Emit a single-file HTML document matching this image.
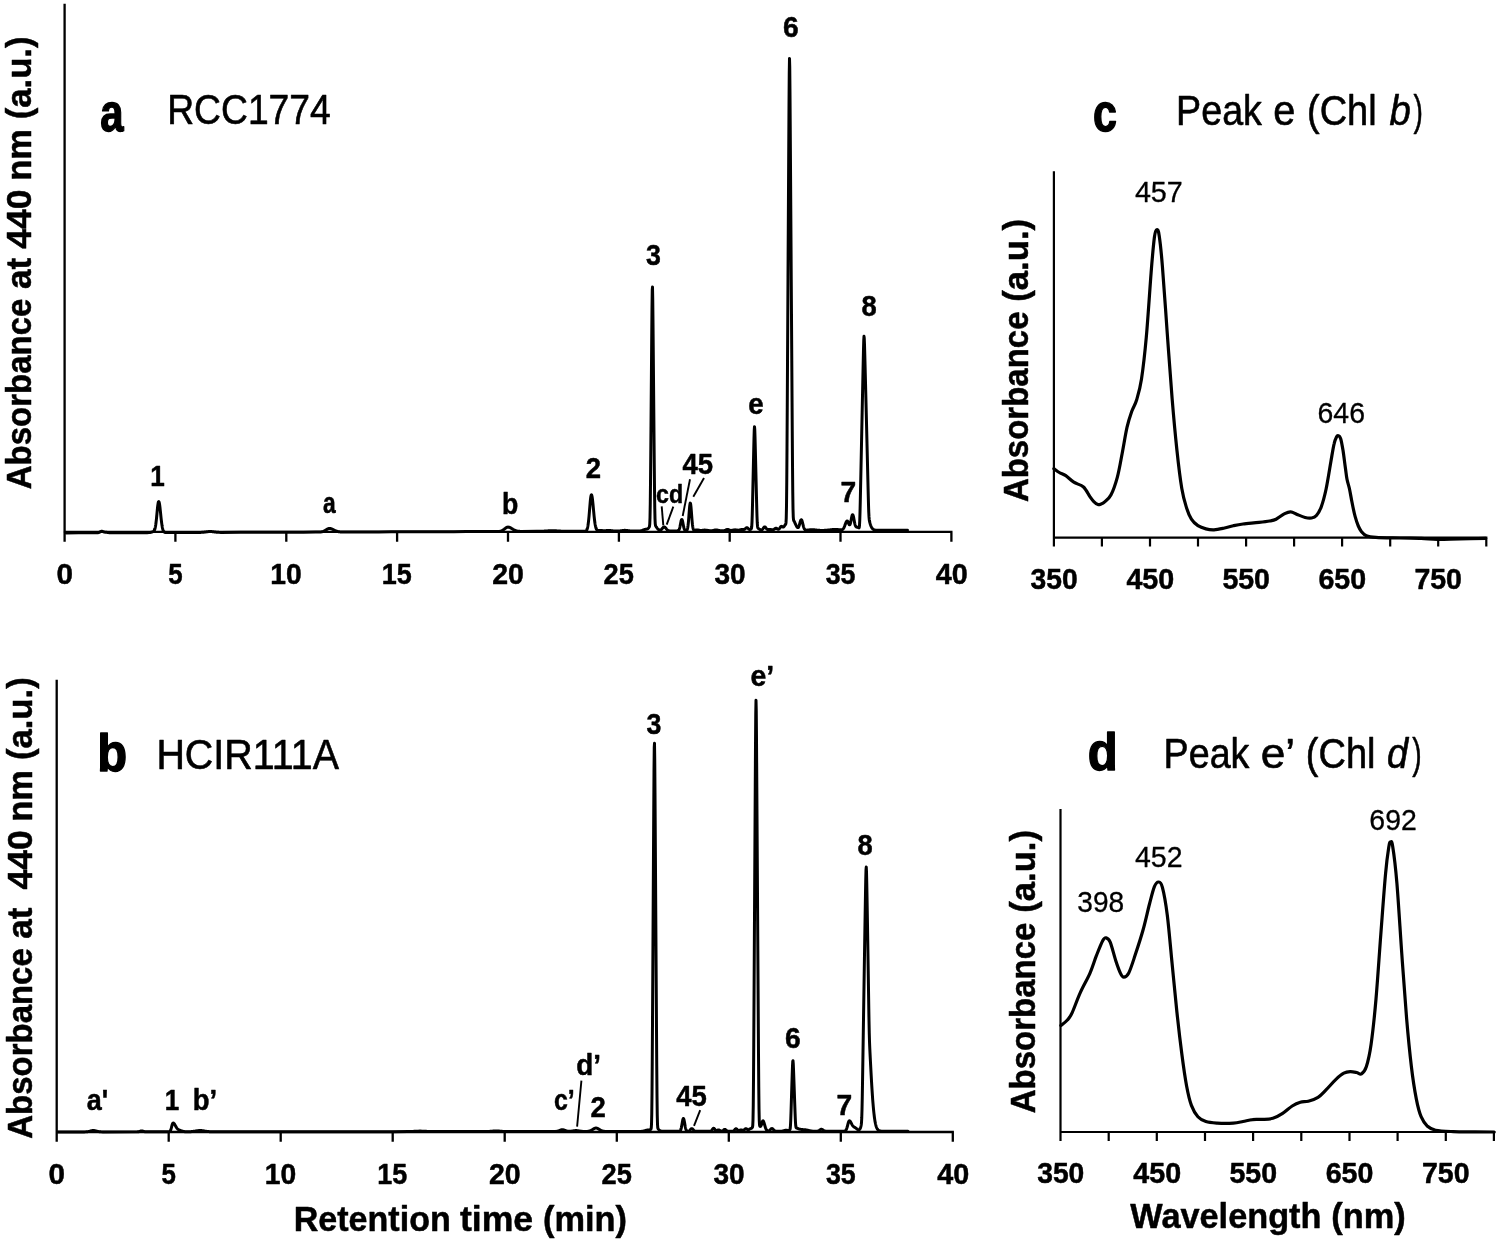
<!DOCTYPE html>
<html lang="en">
<head>
<meta charset="utf-8">
<title>HPLC chromatograms and absorbance spectra</title>
<style>
html,body{margin:0;padding:0;background:#fff;}
body{width:1500px;height:1241px;overflow:hidden;}
svg{display:block;}
svg text{font-family:'Liberation Sans', sans-serif;stroke:none;fill:#000;}
</style>
</head>
<body>
<svg width="1500" height="1241" viewBox="0 0 1500 1241" stroke="#000" fill="#000" font-weight="700">
<rect width="1500" height="1241" fill="#fff" stroke="none"/>
<!-- panel a -->
<path d="M64.6,3.8 V541.8 M63.4,531.8 H952.5 M175.4,531.8 V541.8 M286.3,531.8 V541.8 M397.1,531.8 V541.8 M508,531.8 V541.8 M618.9,531.8 V541.8 M729.7,531.8 V541.8 M840.5,531.8 V541.8 M951.4,531.8 V541.8" fill="none" stroke-width="2.3"/>
<path d="M66,532.9 L78.5,532.86 L91,532.82 L97.25,532.77 L98,532.7 L98.25,532.66 L98.5,532.6 L98.75,532.53 L99,532.44 L99.25,532.33 L99.5,532.21 L99.75,532.07 L100,531.93 L100.25,531.78 L100.5,531.63 L100.75,531.5 L101,531.39 L101.25,531.31 L101.5,531.26 L102,531.26 L102.25,531.31 L102.5,531.39 L102.75,531.48 L103,531.58 L103.25,531.69 L103.5,531.79 L103.75,531.89 L104,531.97 L104.25,532.04 L104.5,532.09 L104.75,532.14 L105.25,532.2 L105.75,532.24 L106.25,532.3 L106.75,532.36 L107.25,532.43 L107.75,532.5 L108.25,532.57 L108.75,532.63 L109.25,532.67 L110,532.72 L135.75,532.68 L147.25,532.64 L149,532.59 L149.75,532.52 L150.25,532.45 L150.5,532.41 L150.75,532.35 L151,532.29 L151.25,532.23 L151.5,532.16 L151.75,532.08 L152,532 L152.25,531.91 L152.5,531.82 L152.75,531.72 L153,531.61 L153.25,531.48 L153.5,531.32 L153.75,531.11 L154,530.84 L154.25,530.48 L154.5,530 L154.75,529.37 L155,528.55 L155.25,527.51 L155.5,526.21 L155.75,524.63 L156,522.78 L156.25,520.65 L156.5,518.29 L156.75,515.75 L157,513.12 L157.25,510.5 L157.5,508.01 L157.75,505.78 L158,503.93 L158.25,502.56 L158.5,501.75 L158.75,501.52 L159,501.86 L159.25,502.73 L159.5,504.05 L159.75,505.77 L160,507.8 L160.25,510.06 L160.5,512.46 L160.75,514.89 L161,517.29 L161.25,519.59 L161.5,521.72 L161.75,523.65 L162,525.37 L162.25,526.85 L162.5,528.1 L162.75,529.14 L163,529.98 L163.25,530.65 L163.5,531.17 L163.75,531.57 L164,531.86 L164.25,532.08 L164.5,532.24 L164.75,532.35 L165,532.43 L165.25,532.48 L165.75,532.54 L190.75,532.5 L198.75,532.46 L200.5,532.41 L201.5,532.37 L202.25,532.32 L203,532.26 L203.5,532.22 L204,532.16 L204.5,532.1 L205,532.04 L205.5,531.97 L206,531.9 L206.5,531.84 L207,531.77 L207.5,531.71 L208,531.65 L208.5,531.61 L209.25,531.56 L211.75,531.62 L212.25,531.66 L212.75,531.72 L213.25,531.78 L213.75,531.85 L214.25,531.91 L214.75,531.98 L215.25,532.04 L215.75,532.1 L216.25,532.15 L216.75,532.2 L217.25,532.24 L218,532.29 L219,532.34 L220.75,532.38 L241,532.34 L253.5,532.3 L266,532.26 L278.5,532.22 L291,532.18 L303.5,532.14 L315.75,532.1 L319,532.06 L320,532.01 L320.75,531.95 L321.25,531.89 L321.5,531.85 L321.75,531.81 L322,531.76 L322.25,531.7 L322.5,531.64 L322.75,531.57 L323,531.49 L323.25,531.4 L323.5,531.31 L323.75,531.2 L324,531.09 L324.25,530.97 L324.5,530.84 L324.75,530.71 L325,530.56 L325.25,530.42 L325.5,530.26 L325.75,530.1 L326,529.95 L326.25,529.79 L326.5,529.63 L326.75,529.47 L327,529.32 L327.25,529.18 L327.5,529.04 L327.75,528.92 L328,528.81 L328.25,528.71 L328.5,528.63 L328.75,528.56 L329,528.51 L329.5,528.47 L330.25,528.52 L330.5,528.56 L330.75,528.62 L331,528.68 L331.25,528.76 L331.5,528.84 L331.75,528.94 L332,529.04 L332.25,529.15 L332.5,529.26 L332.75,529.38 L333,529.5 L333.25,529.63 L333.5,529.76 L333.75,529.88 L334,530.01 L334.25,530.14 L334.5,530.26 L334.75,530.39 L335,530.51 L335.25,530.62 L335.5,530.73 L335.75,530.84 L336,530.94 L336.25,531.04 L336.5,531.13 L336.75,531.21 L337,531.29 L337.25,531.37 L337.5,531.44 L337.75,531.5 L338,531.56 L338.25,531.61 L338.5,531.66 L338.75,531.7 L339.25,531.78 L339.75,531.84 L340.25,531.88 L341,531.93 L342.25,531.98 L366.25,531.94 L378.75,531.9 L391.25,531.86 L403.75,531.82 L416.25,531.78 L428.75,531.74 L441.25,531.7 L453.75,531.66 L466.25,531.62 L478.75,531.58 L491.25,531.54 L497.25,531.49 L498.5,531.44 L499.25,531.37 L499.75,531.31 L500,531.27 L500.25,531.22 L500.5,531.17 L500.75,531.1 L501,531.03 L501.25,530.95 L501.5,530.86 L501.75,530.76 L502,530.65 L502.25,530.53 L502.5,530.39 L502.75,530.25 L503,530.09 L503.25,529.93 L503.5,529.75 L503.75,529.57 L504,529.38 L504.25,529.18 L504.5,528.98 L504.75,528.78 L505,528.58 L505.25,528.39 L505.5,528.2 L505.75,528.01 L506,527.84 L506.25,527.68 L506.5,527.54 L506.75,527.41 L507,527.3 L507.25,527.22 L507.5,527.16 L508,527.1 L508.75,527.16 L509,527.22 L509.25,527.28 L509.5,527.36 L509.75,527.45 L510,527.56 L510.25,527.67 L510.5,527.8 L510.75,527.93 L511,528.07 L511.25,528.21 L511.5,528.36 L511.75,528.52 L512,528.67 L512.25,528.83 L512.5,528.99 L512.75,529.14 L513,529.3 L513.25,529.45 L513.5,529.59 L513.75,529.73 L514,529.87 L514.25,530 L514.5,530.13 L514.75,530.24 L515,530.36 L515.25,530.46 L515.5,530.56 L515.75,530.65 L516,530.73 L516.25,530.81 L516.5,530.88 L516.75,530.95 L517,531 L517.25,531.06 L517.5,531.11 L517.75,531.15 L518.25,531.22 L518.75,531.28 L519.25,531.32 L520,531.37 L521.25,531.41 L536.75,531.37 L539,531.32 L540.5,531.28 L541.75,531.23 L542.75,531.19 L543.75,531.13 L544.5,531.09 L545.25,531.04 L546,531 L546.75,530.95 L547.5,530.9 L548.25,530.86 L549.25,530.81 L550.5,530.77 L555.25,530.81 L556.25,530.86 L557,530.9 L557.75,530.94 L558.5,530.99 L559.25,531.03 L560.25,531.08 L561.25,531.13 L562.25,531.17 L563.75,531.21 L566,531.26 L584.5,531.22 L585.25,531.14 L585.5,531.08 L585.75,530.99 L586,530.86 L586.25,530.67 L586.5,530.39 L586.75,530.01 L587,529.49 L587.25,528.8 L587.5,527.89 L587.75,526.74 L588,525.32 L588.25,523.58 L588.5,521.53 L588.75,519.17 L589,516.53 L589.25,513.66 L589.5,510.63 L589.75,507.55 L590,504.54 L590.25,501.73 L590.5,499.26 L590.75,497.26 L591,495.82 L591.25,495.01 L591.5,494.85 L591.75,495.3 L592,496.3 L592.25,497.8 L592.5,499.71 L592.75,501.95 L593,504.44 L593.25,507.09 L593.5,509.79 L593.75,512.47 L594,515.06 L594.25,517.48 L594.5,519.71 L594.75,521.71 L595,523.46 L595.25,524.96 L595.5,526.23 L595.75,527.27 L596,528.11 L596.25,528.78 L596.5,529.29 L596.75,529.67 L597,529.96 L597.25,530.16 L597.5,530.3 L597.75,530.39 L598,530.45 L598.5,530.49 L601.5,530.54 L602.25,530.6 L602.75,530.64 L603.5,530.69 L606,530.65 L606.5,530.6 L607,530.56 L607.5,530.52 L608.25,530.47 L610.25,530.51 L610.75,530.56 L611.25,530.62 L611.75,530.69 L612.25,530.76 L612.75,530.82 L613.25,530.89 L613.75,530.94 L614.25,530.99 L615,531.04 L616.25,531.08 L618.75,531.03 L619.5,530.97 L620,530.92 L620.5,530.86 L621,530.79 L621.5,530.71 L621.75,530.67 L622,530.63 L622.25,530.59 L622.75,530.51 L623.25,530.44 L623.75,530.38 L624.25,530.34 L626.5,530.4 L627,530.46 L627.5,530.53 L628,530.61 L628.5,530.69 L629,530.76 L629.5,530.83 L630,530.89 L630.5,530.94 L631.25,530.99 L632.25,531.04 L639.5,530.99 L640,530.94 L640.5,530.87 L640.75,530.82 L641,530.77 L641.25,530.71 L641.5,530.65 L641.75,530.57 L642,530.49 L642.25,530.4 L642.5,530.31 L642.75,530.21 L643,530.11 L643.25,530.01 L643.5,529.91 L643.75,529.81 L644,529.72 L644.25,529.63 L644.5,529.55 L644.75,529.48 L645,529.41 L645.25,529.36 L645.5,529.31 L645.75,529.27 L646.25,529.2 L646.5,529.15 L646.75,529.1 L647,529.03 L647.25,528.95 L647.5,528.83 L647.75,528.69 L648,528.51 L648.25,528.29 L648.5,528.02 L648.75,527.72 L649,527.37 L649.25,526.94 L649.5,526.19 L649.75,524.07 L650,518.06 L650.25,504.87 L650.5,483.33 L650.75,455.75 L651,425.51 L651.25,394.59 L651.5,363.73 L651.75,333.78 L652,307.35 L652.25,289.86 L652.5,287.02 L652.75,299.57 L653,322.44 L653.25,349.67 L653.5,378.08 L653.75,406.7 L654,435.25 L654.25,463.09 L654.5,488.26 L654.75,507.52 L655,518.89 L655.25,523.8 L655.5,525.46 L655.75,526.08 L656,526.49 L656.25,526.87 L656.5,527.24 L656.75,527.59 L657,527.93 L657.25,528.25 L657.5,528.55 L657.75,528.83 L658,529.08 L658.25,529.31 L658.5,529.51 L658.75,529.68 L659,529.82 L659.25,529.94 L659.5,530.02 L659.75,530.06 L660.25,530.05 L660.5,529.99 L660.75,529.88 L661,529.74 L661.25,529.56 L661.5,529.34 L661.75,529.09 L662,528.82 L662.25,528.54 L662.5,528.25 L662.75,527.96 L663,527.7 L663.25,527.47 L663.5,527.27 L663.75,527.13 L664,527.05 L664.25,527.04 L664.5,527.08 L664.75,527.2 L665,527.36 L665.25,527.58 L665.5,527.84 L665.75,528.12 L666,528.43 L666.25,528.73 L666.5,529.04 L666.75,529.33 L667,529.6 L667.25,529.84 L667.5,530.06 L667.75,530.24 L668,530.4 L668.25,530.53 L668.5,530.64 L668.75,530.72 L669,530.79 L669.25,530.84 L669.75,530.9 L670.5,530.94 L677.5,530.89 L677.75,530.85 L678,530.78 L678.25,530.66 L678.5,530.48 L678.75,530.21 L679,529.81 L679.25,529.27 L679.5,528.55 L679.75,527.64 L680,526.55 L680.25,525.31 L680.5,523.99 L680.75,522.67 L681,521.45 L681.25,520.45 L681.5,519.77 L681.75,519.47 L682,519.6 L682.25,520.13 L682.5,521.01 L682.75,522.15 L683,523.45 L683.25,524.78 L683.5,526.06 L683.75,527.21 L684,528.19 L684.25,528.99 L684.5,529.6 L684.75,530.05 L685,530.36 L685.25,530.57 L685.5,530.7 L685.75,530.76 L686,530.77 L686.25,530.73 L686.5,530.62 L686.75,530.41 L687,530.05 L687.25,529.49 L687.5,528.64 L687.75,527.43 L688,525.78 L688.25,523.65 L688.5,521.03 L688.75,518 L689,514.69 L689.25,511.34 L689.5,508.21 L689.75,505.63 L690,503.85 L690.25,503.08 L690.5,503.4 L690.75,504.79 L691,507.08 L691.25,510.02 L691.5,513.31 L691.75,516.65 L692,519.8 L692.25,522.58 L692.5,524.89 L692.75,526.7 L693,528.05 L693.25,528.99 L693.5,529.61 L693.75,530 L694,530.21 L694.25,530.3 L694.75,530.3 L695,530.25 L695.25,530.19 L695.5,530.13 L695.75,530.06 L696,530 L696.25,529.96 L696.75,529.9 L697.75,529.94 L698,529.98 L698.25,530.03 L698.5,530.09 L698.75,530.15 L699,530.22 L699.25,530.28 L699.5,530.33 L699.75,530.38 L700,530.42 L700.5,530.48 L702,530.42 L702.5,530.35 L702.75,530.31 L703,530.27 L703.25,530.22 L703.75,530.15 L704.25,530.09 L706.25,530.15 L706.5,530.18 L706.75,530.22 L707,530.26 L707.25,530.31 L707.5,530.36 L707.75,530.4 L708,530.45 L708.25,530.49 L708.5,530.53 L709,530.61 L709.5,530.67 L710,530.71 L712.25,530.65 L712.5,530.62 L712.75,530.57 L713,530.52 L713.25,530.47 L713.5,530.4 L713.75,530.34 L714,530.27 L714.25,530.21 L714.5,530.14 L714.75,530.08 L715,530.03 L715.25,529.99 L715.75,529.94 L716.75,529.98 L717,530.03 L717.25,530.08 L717.5,530.14 L717.75,530.2 L718,530.26 L718.25,530.33 L718.5,530.39 L718.75,530.45 L719,530.51 L719.25,530.56 L719.5,530.6 L720,530.67 L720.5,530.72 L721.25,530.77 L723.75,530.72 L724,530.69 L724.25,530.64 L724.5,530.58 L724.75,530.51 L725,530.42 L725.25,530.32 L725.5,530.2 L725.75,530.07 L726,529.93 L726.25,529.8 L726.5,529.67 L726.75,529.56 L727,529.48 L727.25,529.43 L727.75,529.42 L728,529.46 L728.25,529.54 L728.5,529.64 L728.75,529.75 L729,529.87 L729.25,529.99 L729.5,530.1 L729.75,530.2 L730,530.28 L730.25,530.34 L730.5,530.38 L731.75,530.34 L732,530.3 L732.25,530.26 L732.5,530.21 L732.75,530.16 L733,530.11 L733.25,530.06 L733.5,530.01 L733.75,529.97 L734.25,529.9 L735,529.86 L736,529.91 L736.5,529.97 L737,530.04 L737.5,530.1 L738.25,530.14 L739,530.09 L739.25,530.05 L739.5,530 L739.75,529.95 L740,529.88 L740.25,529.82 L740.5,529.75 L740.75,529.69 L741,529.63 L741.25,529.58 L741.75,529.52 L743.25,529.57 L743.75,529.55 L744,529.5 L744.25,529.42 L744.5,529.3 L744.75,529.15 L745,528.96 L745.25,528.74 L745.5,528.51 L745.75,528.29 L746,528.08 L746.25,527.9 L746.5,527.77 L746.75,527.7 L747,527.7 L747.25,527.77 L747.5,527.9 L747.75,528.09 L748,528.31 L748.25,528.55 L748.5,528.79 L748.75,529.01 L749,529.2 L749.25,529.35 L749.5,529.46 L749.75,529.51 L750,529.5 L750.25,529.45 L750.5,529.34 L750.75,529.19 L751,529 L751.25,528.72 L751.5,528.1 L751.75,526.32 L752,522.08 L752.25,514.68 L752.5,504.84 L752.75,493.86 L753,482.59 L753.25,471.28 L753.5,460.02 L753.75,448.89 L754,438.41 L754.25,430.18 L754.5,426.69 L754.75,429.33 L755,436.71 L755.25,446.31 L755.5,456.54 L755.75,466.91 L756,477.3 L756.25,487.7 L756.5,498.02 L756.75,507.91 L757,516.51 L757.25,522.72 L757.5,526.14 L757.75,527.55 L758,528.05 L758.25,528.31 L758.5,528.52 L758.75,528.72 L759,528.91 L759.25,529.09 L759.5,529.25 L759.75,529.41 L760,529.55 L760.25,529.67 L760.5,529.78 L760.75,529.85 L761,529.9 L761.5,529.9 L761.75,529.82 L762,529.7 L762.25,529.52 L762.5,529.29 L762.75,529 L763,528.67 L763.25,528.31 L763.5,527.94 L763.75,527.6 L764,527.3 L764.25,527.07 L764.5,526.94 L764.75,526.9 L765,526.97 L765.25,527.13 L765.5,527.38 L765.75,527.68 L766,528.02 L766.25,528.36 L766.5,528.69 L766.75,528.98 L767,529.22 L767.25,529.4 L767.5,529.53 L767.75,529.61 L768.75,529.6 L769,529.55 L769.25,529.51 L769.75,529.46 L770.75,529.52 L771,529.57 L771.25,529.62 L771.5,529.68 L771.75,529.74 L772,529.79 L772.5,529.84 L773,529.8 L773.25,529.73 L773.5,529.63 L773.75,529.5 L774,529.35 L774.25,529.17 L774.5,528.98 L774.75,528.8 L775,528.62 L775.25,528.47 L775.5,528.35 L775.75,528.28 L776.25,528.28 L776.5,528.36 L776.75,528.48 L777,528.62 L777.25,528.78 L777.5,528.95 L777.75,529.09 L778,529.2 L778.25,529.26 L778.5,529.26 L778.75,529.18 L779,529.03 L779.25,528.79 L779.5,528.49 L779.75,528.14 L780,527.76 L780.25,527.37 L780.5,527.02 L780.75,526.72 L781,526.51 L781.25,526.39 L781.5,526.36 L781.75,526.43 L782,526.57 L782.25,526.74 L782.5,526.91 L782.75,527.05 L783,527.12 L783.25,527.1 L783.5,526.99 L783.75,526.79 L784,526.52 L784.25,526.19 L784.5,525.84 L784.75,525.48 L785,525.14 L785.25,524.81 L785.5,524.47 L785.75,524 L786,522.67 L786.25,518.15 L786.5,506.05 L786.75,482.67 L787,448.57 L787.25,407.94 L787.5,364.77 L787.75,320.97 L788,277.1 L788.25,233.27 L788.5,189.55 L788.75,146.29 L789,105.45 L789.25,73.03 L789.5,58.58 L789.75,67.28 L790,93.93 L790.25,128.94 L790.5,166.32 L790.75,204.12 L791,241.97 L791.25,279.84 L791.5,317.7 L791.75,355.54 L792,393.25 L792.25,430.17 L792.5,464.15 L792.75,491.34 L793,508.63 L793.25,516.81 L793.5,519.66 L793.75,520.54 L794,521 L794.25,521.45 L794.5,521.95 L794.75,522.47 L795,523.01 L795.25,523.56 L795.5,524.1 L795.75,524.65 L796,525.18 L796.25,525.68 L796.5,526.16 L796.75,526.59 L797,526.97 L797.25,527.27 L797.5,527.49 L797.75,527.61 L798,527.61 L798.25,527.47 L798.5,527.18 L798.75,526.73 L799,526.13 L799.25,525.39 L799.5,524.53 L799.75,523.61 L800,522.65 L800.25,521.74 L800.5,520.94 L800.75,520.29 L801,519.87 L801.25,519.7 L801.5,519.81 L801.75,520.18 L802,520.8 L802.25,521.6 L802.5,522.55 L802.75,523.58 L803,524.63 L803.25,525.64 L803.5,526.58 L803.75,527.41 L804,528.11 L804.25,528.69 L804.5,529.15 L804.75,529.5 L805,529.76 L805.25,529.93 L805.5,530.05 L805.75,530.12 L806.25,530.18 L807.25,530.12 L807.75,530.06 L808.25,530 L808.75,529.94 L809.25,529.89 L809.75,529.83 L810.25,529.79 L811,529.74 L814,529.8 L814.5,529.84 L815,529.89 L815.5,529.95 L816,530.01 L816.5,530.07 L817,530.12 L817.5,530.17 L818,530.22 L818.5,530.27 L819.25,530.32 L820,530.36 L821.5,530.4 L824.25,530.36 L825.25,530.31 L826,530.26 L826.75,530.2 L827.25,530.16 L827.75,530.11 L828.25,530.05 L828.75,529.99 L829.25,529.93 L829.75,529.87 L830.25,529.81 L830.75,529.75 L831.25,529.69 L831.75,529.63 L832.25,529.58 L832.75,529.54 L833.5,529.48 L834.5,529.44 L836.75,529.49 L837.5,529.54 L838,529.59 L838.5,529.64 L839,529.69 L839.5,529.74 L840,529.79 L840.75,529.84 L841.5,529.8 L841.75,529.75 L842,529.68 L842.25,529.58 L842.5,529.44 L842.75,529.26 L843,529.03 L843.25,528.74 L843.5,528.39 L843.75,527.98 L844,527.5 L844.25,526.96 L844.5,526.37 L844.75,525.73 L845,525.06 L845.25,524.38 L845.5,523.7 L845.75,523.05 L846,522.45 L846.25,521.93 L846.5,521.5 L846.75,521.19 L847,521.02 L847.25,521 L847.5,521.15 L847.75,521.47 L848,521.94 L848.25,522.51 L848.5,523.14 L848.75,523.75 L849,524.28 L849.25,524.67 L849.5,524.85 L849.75,524.8 L850,524.47 L850.25,523.87 L850.5,523 L850.75,521.91 L851,520.65 L851.25,519.31 L851.5,517.99 L851.75,516.77 L852,515.76 L852.25,515.04 L852.5,514.68 L852.75,514.7 L853,515.1 L853.25,515.85 L853.5,516.89 L853.75,518.13 L854,519.48 L854.25,520.85 L854.5,522.17 L854.75,523.37 L855,524.4 L855.25,525.24 L855.5,525.9 L855.75,526.38 L856,526.71 L856.25,526.92 L856.5,527.04 L856.75,527.12 L857,527.17 L857.25,527.21 L857.5,527.27 L857.75,527.36 L858,527.46 L858.25,527.58 L858.5,527.71 L858.75,527.82 L859,527.81 L859.25,527.26 L859.5,525.24 L859.75,520.51 L860,512.63 L860.25,502.42 L860.5,491.13 L860.75,479.47 L861,467.68 L861.25,455.81 L861.5,443.86 L861.75,431.86 L862,419.83 L862.25,407.79 L862.5,395.76 L862.75,383.79 L863,371.89 L863.25,360.2 L863.5,349.2 L863.75,340.45 L864,336.34 L864.25,338.2 L864.5,344.72 L864.75,353.48 L865,362.98 L865.25,372.7 L865.5,382.57 L865.75,392.55 L866,402.63 L866.25,412.8 L866.5,423.04 L866.75,433.35 L867,443.7 L867.25,454.08 L867.5,464.47 L867.75,474.86 L868,485.2 L868.25,495.31 L868.5,504.58 L868.75,512.01 L869,516.93 L869.25,519.67 L869.5,521.19 L869.75,522.26 L870,523.18 L870.25,524.01 L870.5,524.77 L870.75,525.46 L871,526.09 L871.25,526.66 L871.5,527.16 L871.75,527.61 L872,528.01 L872.25,528.36 L872.5,528.66 L872.75,528.92 L873,529.15 L873.25,529.35 L873.5,529.51 L873.75,529.65 L874,529.77 L874.25,529.87 L874.5,529.95 L874.75,530.02 L875,530.07 L875.25,530.12 L875.75,530.19 L876.25,530.23 L877.25,530.27 L897.75,530.23 L907.5,530.2" fill="none" stroke-width="3" stroke-linejoin="round" stroke-linecap="round"/>
<text x="56.4" y="583.5" font-size="29.6" style="stroke:#000;stroke-width:0.5px;stroke-linejoin:round" textLength="16.5" lengthAdjust="spacingAndGlyphs">0</text>
<text x="168.2" y="583.5" font-size="29.6" style="stroke:#000;stroke-width:0.5px;stroke-linejoin:round" textLength="14.4" lengthAdjust="spacingAndGlyphs">5</text>
<text x="270.3" y="583.5" font-size="29.6" style="stroke:#000;stroke-width:0.5px;stroke-linejoin:round" textLength="31.4" lengthAdjust="spacingAndGlyphs">10</text>
<text x="381.7" y="583.5" font-size="29.6" style="stroke:#000;stroke-width:0.5px;stroke-linejoin:round" textLength="30.0" lengthAdjust="spacingAndGlyphs">15</text>
<text x="492.2" y="583.5" font-size="29.6" style="stroke:#000;stroke-width:0.5px;stroke-linejoin:round" textLength="31.7" lengthAdjust="spacingAndGlyphs">20</text>
<text x="603.6" y="583.5" font-size="29.6" style="stroke:#000;stroke-width:0.5px;stroke-linejoin:round" textLength="30.3" lengthAdjust="spacingAndGlyphs">25</text>
<text x="714.4" y="583.5" font-size="29.6" style="stroke:#000;stroke-width:0.5px;stroke-linejoin:round" textLength="31.2" lengthAdjust="spacingAndGlyphs">30</text>
<text x="825.7" y="583.5" font-size="29.6" style="stroke:#000;stroke-width:0.5px;stroke-linejoin:round" textLength="29.8" lengthAdjust="spacingAndGlyphs">35</text>
<text x="935.8" y="583.5" font-size="29.6" style="stroke:#000;stroke-width:0.5px;stroke-linejoin:round" textLength="32.0" lengthAdjust="spacingAndGlyphs">40</text>
<g transform="translate(31.2 488.7) rotate(-90)">
<text y="0" font-size="35.2" style="stroke:#000;stroke-width:0.5px;stroke-linejoin:round"><tspan x="-0.5" textLength="190.6" lengthAdjust="spacingAndGlyphs">Absorbance</tspan> <tspan x="199.6" textLength="31.2" lengthAdjust="spacingAndGlyphs">at</tspan> <tspan x="239.9" textLength="59.3" lengthAdjust="spacingAndGlyphs">440</tspan> <tspan x="307.9" textLength="51.7" lengthAdjust="spacingAndGlyphs">nm</tspan> <tspan x="369.4" textLength="82.8" lengthAdjust="spacingAndGlyphs">(a.u.)</tspan></text>
</g>
<text x="100.2" y="131.3" font-size="52.7" style="stroke:#000;stroke-width:1.4px;stroke-linejoin:round" textLength="23.3" lengthAdjust="spacingAndGlyphs">a</text>
<text x="167.2" y="124.4" font-size="41.8" style="stroke:#000;stroke-width:0.6px;stroke-linejoin:round" font-weight="400" textLength="163.6" lengthAdjust="spacingAndGlyphs">RCC1774</text>
<text x="150.3" y="486.3" font-size="29.6" style="stroke:#000;stroke-width:0.5px;stroke-linejoin:round" textLength="14.5" lengthAdjust="spacingAndGlyphs">1</text>
<text x="323" y="512.5" font-size="28.6" style="stroke:#000;stroke-width:0.5px;stroke-linejoin:round" textLength="12.7" lengthAdjust="spacingAndGlyphs">a</text>
<text x="502.1" y="513.6" font-size="28.6" style="stroke:#000;stroke-width:0.5px;stroke-linejoin:round" textLength="16.3" lengthAdjust="spacingAndGlyphs">b</text>
<text x="585.7" y="477.8" font-size="29.6" style="stroke:#000;stroke-width:0.5px;stroke-linejoin:round" textLength="15.3" lengthAdjust="spacingAndGlyphs">2</text>
<text x="646" y="264.6" font-size="29.6" style="stroke:#000;stroke-width:0.5px;stroke-linejoin:round" textLength="14.9" lengthAdjust="spacingAndGlyphs">3</text>
<text x="748.2" y="413.6" font-size="28.6" style="stroke:#000;stroke-width:0.5px;stroke-linejoin:round" textLength="15.4" lengthAdjust="spacingAndGlyphs">e</text>
<text x="783.1" y="37.2" font-size="29.6" style="stroke:#000;stroke-width:0.5px;stroke-linejoin:round" textLength="15.7" lengthAdjust="spacingAndGlyphs">6</text>
<text x="840.5" y="502.2" font-size="29.6" style="stroke:#000;stroke-width:0.5px;stroke-linejoin:round" textLength="15.7" lengthAdjust="spacingAndGlyphs">7</text>
<text x="861.4" y="316.2" font-size="29.6" style="stroke:#000;stroke-width:0.5px;stroke-linejoin:round" textLength="15.2" lengthAdjust="spacingAndGlyphs">8</text>
<text x="656" y="502.8" font-size="26.5" style="stroke:#000;stroke-width:0.5px;stroke-linejoin:round" textLength="27.1" lengthAdjust="spacingAndGlyphs">cd</text>
<text x="682.5" y="473.5" font-size="29.6" style="stroke:#000;stroke-width:0.5px;stroke-linejoin:round" textLength="30.6" lengthAdjust="spacingAndGlyphs">45</text>
<line x1="661.7" y1="506.3" x2="663.3" y2="525.3" stroke-width="1.9"/>
<line x1="673.3" y1="506.7" x2="666.7" y2="524.7" stroke-width="1.9"/>
<line x1="690" y1="479.3" x2="682.7" y2="516" stroke-width="1.9"/>
<line x1="704" y1="478" x2="693.3" y2="496.7" stroke-width="1.9"/>
<!-- panel b -->
<path d="M56.7,679.7 V1141.8 M55.6,1132 H953.9 M168.7,1132 V1141.8 M280.7,1132 V1141.8 M392.7,1132 V1141.8 M504.7,1132 V1141.8 M616.8,1132 V1141.8 M728.8,1132 V1141.8 M840.8,1132 V1141.8 M952.8,1132 V1141.8" fill="none" stroke-width="2.3"/>
<path d="M58,1131.95 L84.25,1131.91 L85.75,1131.86 L86.5,1131.81 L87,1131.76 L87.5,1131.7 L87.75,1131.66 L88,1131.62 L88.25,1131.58 L88.5,1131.53 L88.75,1131.47 L89,1131.42 L89.25,1131.35 L89.5,1131.29 L89.75,1131.22 L90,1131.15 L90.25,1131.08 L90.5,1131.01 L90.75,1130.95 L91,1130.88 L91.25,1130.81 L91.5,1130.75 L91.75,1130.7 L92,1130.65 L92.25,1130.61 L92.75,1130.55 L94.25,1130.59 L94.5,1130.63 L94.75,1130.68 L95,1130.73 L95.25,1130.79 L95.5,1130.85 L95.75,1130.91 L96,1130.98 L96.25,1131.05 L96.5,1131.12 L96.75,1131.19 L97,1131.26 L97.25,1131.32 L97.5,1131.38 L97.75,1131.44 L98,1131.5 L98.25,1131.55 L98.5,1131.6 L98.75,1131.64 L99.25,1131.71 L99.75,1131.77 L100.25,1131.81 L101,1131.86 L102.75,1131.9 L137.25,1131.85 L138,1131.8 L138.5,1131.73 L138.75,1131.68 L139,1131.62 L139.25,1131.55 L139.5,1131.48 L139.75,1131.39 L140,1131.3 L140.25,1131.21 L140.5,1131.13 L140.75,1131.05 L141,1130.98 L141.25,1130.93 L142.25,1130.95 L142.5,1131 L142.75,1131.07 L143,1131.16 L143.25,1131.25 L143.5,1131.34 L143.75,1131.42 L144,1131.5 L144.25,1131.58 L144.5,1131.64 L144.75,1131.7 L145,1131.74 L145.5,1131.8 L146.25,1131.85 L168.75,1131.78 L169,1131.73 L169.25,1131.66 L169.5,1131.54 L169.75,1131.37 L170,1131.12 L170.25,1130.78 L170.5,1130.32 L170.75,1129.73 L171,1129.02 L171.25,1128.19 L171.5,1127.27 L171.75,1126.32 L172,1125.38 L172.25,1124.54 L172.5,1123.86 L172.75,1123.39 L173,1123.13 L173.25,1123.05 L173.5,1123.11 L173.75,1123.27 L174,1123.5 L174.25,1123.8 L174.5,1124.15 L174.75,1124.55 L175,1124.97 L175.25,1125.41 L175.5,1125.87 L175.75,1126.31 L176,1126.75 L176.25,1127.17 L176.5,1127.56 L176.75,1127.92 L177,1128.25 L177.25,1128.55 L177.5,1128.81 L177.75,1129.05 L178,1129.25 L178.25,1129.44 L178.5,1129.6 L178.75,1129.74 L179,1129.87 L179.25,1129.99 L179.5,1130.1 L179.75,1130.2 L180,1130.3 L180.25,1130.39 L180.5,1130.49 L180.75,1130.58 L181,1130.67 L181.25,1130.76 L181.5,1130.84 L181.75,1130.93 L182,1131.01 L182.25,1131.09 L182.5,1131.17 L182.75,1131.24 L183,1131.31 L183.25,1131.37 L183.5,1131.43 L183.75,1131.48 L184,1131.53 L184.25,1131.57 L184.75,1131.64 L185.25,1131.69 L186,1131.75 L190.25,1131.7 L191,1131.65 L191.5,1131.6 L192,1131.55 L192.5,1131.5 L193,1131.43 L193.5,1131.36 L194,1131.29 L194.25,1131.25 L194.5,1131.2 L194.75,1131.16 L195,1131.12 L195.25,1131.08 L195.5,1131.03 L195.75,1130.99 L196,1130.94 L196.25,1130.9 L196.5,1130.86 L196.75,1130.82 L197.25,1130.74 L197.75,1130.67 L198.25,1130.62 L198.75,1130.57 L199.5,1130.53 L201.5,1130.59 L202,1130.64 L202.5,1130.7 L203,1130.77 L203.25,1130.81 L203.5,1130.85 L203.75,1130.9 L204,1130.94 L204.25,1130.98 L204.5,1131.02 L204.75,1131.07 L205,1131.11 L205.25,1131.15 L205.5,1131.19 L205.75,1131.24 L206.25,1131.31 L206.75,1131.39 L207.25,1131.45 L207.75,1131.51 L208.25,1131.56 L208.75,1131.61 L209.5,1131.67 L210.25,1131.71 L211.5,1131.76 L214.5,1131.8 L265,1131.76 L307.75,1131.71 L350.5,1131.67 L393,1131.63 L408,1131.59 L410,1131.55 L411.25,1131.51 L412.25,1131.47 L413.25,1131.41 L414,1131.37 L414.75,1131.33 L415.5,1131.28 L416.25,1131.24 L417,1131.2 L418,1131.15 L420,1131.11 L422.25,1131.16 L423.25,1131.2 L424,1131.24 L424.75,1131.29 L425.5,1131.33 L426.25,1131.37 L427,1131.41 L428,1131.46 L429.25,1131.51 L431,1131.55 L486.5,1131.51 L488,1131.46 L489,1131.41 L489.75,1131.37 L490.5,1131.31 L491,1131.27 L491.5,1131.22 L492,1131.18 L492.5,1131.13 L493,1131.09 L493.5,1131.05 L494.25,1131 L495.25,1130.95 L497.75,1130.99 L498.5,1131.04 L499.25,1131.1 L499.75,1131.15 L500.25,1131.19 L500.75,1131.24 L501.25,1131.28 L502,1131.34 L502.75,1131.39 L503.5,1131.43 L504.75,1131.47 L507.25,1131.52 L554,1131.47 L555.5,1131.43 L556.25,1131.37 L556.75,1131.31 L557,1131.27 L557.25,1131.22 L557.5,1131.17 L557.75,1131.11 L558,1131.04 L558.25,1130.97 L558.5,1130.89 L558.75,1130.8 L559,1130.71 L559.25,1130.61 L559.5,1130.51 L559.75,1130.41 L560,1130.3 L560.25,1130.2 L560.5,1130.1 L560.75,1130.01 L561,1129.93 L561.25,1129.86 L561.5,1129.79 L561.75,1129.75 L562.25,1129.69 L563,1129.74 L563.25,1129.78 L563.5,1129.84 L563.75,1129.91 L564,1129.99 L564.25,1130.08 L564.5,1130.18 L564.75,1130.28 L565,1130.38 L565.25,1130.48 L565.5,1130.58 L565.75,1130.68 L566,1130.77 L566.25,1130.86 L566.5,1130.94 L566.75,1131.01 L567,1131.08 L567.25,1131.13 L567.5,1131.18 L567.75,1131.23 L568.25,1131.29 L569,1131.33 L570.5,1131.28 L571,1131.23 L571.5,1131.17 L572,1131.09 L572.25,1131.05 L572.5,1131.01 L572.75,1130.96 L573,1130.92 L573.25,1130.87 L573.5,1130.83 L573.75,1130.79 L574,1130.75 L574.5,1130.67 L575,1130.62 L575.75,1130.57 L577,1130.62 L577.5,1130.67 L578,1130.74 L578.25,1130.78 L578.5,1130.83 L578.75,1130.87 L579,1130.91 L579.25,1130.96 L579.5,1131 L579.75,1131.05 L580,1131.09 L580.5,1131.16 L581,1131.23 L581.5,1131.29 L582,1131.33 L582.75,1131.38 L584,1131.42 L587,1131.38 L587.75,1131.32 L588.25,1131.26 L588.5,1131.23 L588.75,1131.18 L589,1131.13 L589.25,1131.07 L589.5,1131.01 L589.75,1130.94 L590,1130.85 L590.25,1130.76 L590.5,1130.66 L590.75,1130.55 L591,1130.44 L591.25,1130.31 L591.5,1130.18 L591.75,1130.03 L592,1129.89 L592.25,1129.73 L592.5,1129.58 L592.75,1129.42 L593,1129.26 L593.25,1129.1 L593.5,1128.95 L593.75,1128.8 L594,1128.66 L594.25,1128.53 L594.5,1128.41 L594.75,1128.31 L595,1128.22 L595.25,1128.16 L595.5,1128.1 L596,1128.06 L596.5,1128.1 L596.75,1128.15 L597,1128.22 L597.25,1128.31 L597.5,1128.41 L597.75,1128.53 L598,1128.66 L598.25,1128.79 L598.5,1128.94 L598.75,1129.09 L599,1129.25 L599.25,1129.41 L599.5,1129.57 L599.75,1129.73 L600,1129.88 L600.25,1130.03 L600.5,1130.17 L600.75,1130.3 L601,1130.43 L601.25,1130.54 L601.5,1130.65 L601.75,1130.75 L602,1130.84 L602.25,1130.92 L602.5,1131 L602.75,1131.06 L603,1131.12 L603.25,1131.17 L603.5,1131.21 L604,1131.28 L604.5,1131.33 L605.25,1131.38 L606.75,1131.42 L640.5,1131.38 L641.5,1131.34 L642.25,1131.27 L642.75,1131.21 L643,1131.17 L643.25,1131.13 L643.5,1131.08 L643.75,1131.03 L644,1130.96 L644.25,1130.9 L644.5,1130.83 L644.75,1130.75 L645,1130.68 L645.25,1130.6 L645.5,1130.52 L645.75,1130.44 L646,1130.36 L646.25,1130.28 L646.5,1130.21 L646.75,1130.15 L647,1130.1 L647.25,1130.05 L647.75,1129.98 L648.5,1129.94 L649.25,1129.9 L649.5,1129.86 L649.75,1129.81 L650,1129.74 L650.25,1129.63 L650.5,1129.49 L650.75,1129.3 L651,1128.97 L651.25,1127.97 L651.5,1124.43 L651.75,1114.4 L652,1093.74 L652.25,1061.91 L652.5,1022.61 L652.75,980.17 L653,936.93 L653.25,893.6 L653.5,850.5 L653.75,808.65 L654,771.71 L654.25,747.26 L654.5,743.29 L654.75,760.86 L655,792.85 L655.25,830.95 L655.5,870.68 L655.75,910.7 L656,950.77 L656.25,990.75 L656.5,1029.99 L656.75,1066.33 L657,1095.78 L657.25,1114.91 L657.5,1124.22 L657.75,1127.56 L658,1128.57 L658.25,1128.99 L658.5,1129.29 L658.75,1129.57 L659,1129.83 L659.25,1130.06 L659.5,1130.26 L659.75,1130.44 L660,1130.6 L660.25,1130.74 L660.5,1130.86 L660.75,1130.96 L661,1131.04 L661.25,1131.11 L661.5,1131.17 L661.75,1131.21 L662.25,1131.28 L662.75,1131.32 L663.75,1131.36 L679.25,1131.29 L679.5,1131.22 L679.75,1131.12 L680,1130.95 L680.25,1130.69 L680.5,1130.3 L680.75,1129.76 L681,1129.03 L681.25,1128.09 L681.5,1126.94 L681.75,1125.61 L682,1124.15 L682.25,1122.65 L682.5,1121.22 L682.75,1119.98 L683,1119.06 L683.25,1118.54 L683.5,1118.5 L683.75,1118.92 L684,1119.76 L684.25,1120.95 L684.5,1122.35 L684.75,1123.85 L685,1125.32 L685.25,1126.69 L685.5,1127.87 L685.75,1128.85 L686,1129.62 L686.25,1130.2 L686.5,1130.61 L686.75,1130.89 L687,1131.07 L687.25,1131.18 L687.5,1131.24 L688.25,1131.21 L688.5,1131.15 L688.75,1131.06 L689,1130.94 L689.25,1130.79 L689.5,1130.59 L689.75,1130.36 L690,1130.11 L690.25,1129.83 L690.5,1129.54 L690.75,1129.27 L691,1129.02 L691.25,1128.83 L691.5,1128.7 L691.75,1128.64 L692,1128.66 L692.25,1128.77 L692.5,1128.94 L692.75,1129.17 L693,1129.43 L693.25,1129.71 L693.5,1129.99 L693.75,1130.26 L694,1130.5 L694.25,1130.71 L694.5,1130.88 L694.75,1131.01 L695,1131.12 L695.25,1131.19 L695.5,1131.25 L696,1131.31 L710.25,1131.25 L710.5,1131.19 L710.75,1131.11 L711,1130.98 L711.25,1130.81 L711.5,1130.59 L711.75,1130.31 L712,1129.98 L712.25,1129.62 L712.5,1129.25 L712.75,1128.89 L713,1128.59 L713.25,1128.38 L713.5,1128.26 L713.75,1128.27 L714,1128.39 L714.25,1128.62 L714.5,1128.91 L714.75,1129.25 L715,1129.59 L715.25,1129.9 L715.5,1130.16 L715.75,1130.35 L716,1130.48 L716.25,1130.54 L716.5,1130.54 L716.75,1130.49 L717,1130.41 L717.25,1130.31 L717.5,1130.2 L717.75,1130.11 L718,1130.03 L718.25,1129.98 L718.75,1129.98 L719,1130.03 L719.25,1130.12 L719.5,1130.22 L719.75,1130.35 L720,1130.48 L720.25,1130.61 L720.5,1130.73 L720.75,1130.85 L721,1130.94 L721.25,1131.01 L721.5,1131.06 L722,1131.07 L722.25,1131.01 L722.5,1130.92 L722.75,1130.79 L723,1130.62 L723.25,1130.42 L723.5,1130.2 L723.75,1129.97 L724,1129.76 L724.25,1129.58 L724.5,1129.46 L724.75,1129.4 L725,1129.43 L725.25,1129.52 L725.5,1129.68 L725.75,1129.88 L726,1130.11 L726.25,1130.34 L726.5,1130.56 L726.75,1130.75 L727,1130.91 L727.25,1131.04 L727.5,1131.13 L727.75,1131.2 L728,1131.25 L728.5,1131.29 L732.5,1131.23 L732.75,1131.18 L733,1131.11 L733.25,1131 L733.5,1130.87 L733.75,1130.69 L734,1130.48 L734.25,1130.23 L734.5,1129.96 L734.75,1129.68 L735,1129.41 L735.25,1129.16 L735.5,1128.97 L735.75,1128.84 L736,1128.79 L736.25,1128.83 L736.5,1128.95 L736.75,1129.13 L737,1129.36 L737.25,1129.61 L737.5,1129.86 L737.75,1130.08 L738,1130.27 L738.25,1130.41 L738.5,1130.5 L739,1130.51 L739.25,1130.46 L739.5,1130.37 L739.75,1130.28 L740,1130.17 L740.25,1130.08 L740.5,1130 L740.75,1129.95 L741.25,1129.94 L741.5,1129.98 L741.75,1130.05 L742,1130.12 L742.25,1130.2 L742.5,1130.27 L742.75,1130.32 L743.25,1130.31 L743.5,1130.23 L743.75,1130.11 L744,1129.94 L744.25,1129.74 L744.5,1129.51 L744.75,1129.29 L745,1129.08 L745.25,1128.91 L745.5,1128.78 L745.75,1128.72 L746,1128.72 L746.25,1128.79 L746.5,1128.9 L746.75,1129.05 L747,1129.22 L747.25,1129.38 L747.5,1129.52 L747.75,1129.62 L748,1129.68 L748.25,1129.68 L748.5,1129.64 L748.75,1129.56 L749,1129.44 L749.25,1129.31 L749.5,1129.16 L749.75,1129.02 L750,1128.88 L750.25,1128.76 L750.5,1128.64 L750.75,1128.54 L751,1128.44 L751.25,1128.32 L751.5,1128.19 L751.75,1128.02 L752,1127.81 L752.25,1127.54 L752.5,1127.04 L752.75,1125.45 L753,1120.02 L753.25,1106.04 L753.5,1080.28 L753.75,1044.41 L754,1003.09 L754.25,959.9 L754.5,916.32 L754.75,872.73 L755,829.23 L755.25,786.2 L755.5,745.64 L755.75,713.7 L756,700.19 L756.25,710.45 L756.5,739.12 L756.75,776.39 L757,816.09 L757.25,856.24 L757.5,896.47 L757.75,936.74 L758,976.96 L758.25,1016.7 L758.5,1054.31 L758.75,1086.25 L759,1108.5 L759.25,1120.21 L759.5,1124.65 L759.75,1125.93 L760,1126.29 L760.25,1126.41 L760.5,1126.37 L760.75,1126.16 L761,1125.76 L761.25,1125.17 L761.5,1124.43 L761.75,1123.59 L762,1122.72 L762.25,1121.93 L762.5,1121.3 L762.75,1120.93 L763,1120.84 L763.25,1121.02 L763.5,1121.41 L763.75,1121.98 L764,1122.69 L764.25,1123.5 L764.5,1124.36 L764.75,1125.25 L765,1126.13 L765.25,1126.97 L765.5,1127.75 L765.75,1128.44 L766,1129.04 L766.25,1129.55 L766.5,1129.97 L766.75,1130.3 L767,1130.56 L767.25,1130.75 L767.5,1130.88 L767.75,1130.97 L768,1131.01 L768.5,1130.97 L768.75,1130.9 L769,1130.79 L769.25,1130.64 L769.5,1130.46 L769.75,1130.24 L770,1130 L770.25,1129.74 L770.5,1129.47 L770.75,1129.21 L771,1128.98 L771.25,1128.78 L771.5,1128.64 L771.75,1128.56 L772,1128.56 L772.25,1128.62 L772.5,1128.75 L772.75,1128.94 L773,1129.16 L773.25,1129.42 L773.5,1129.69 L773.75,1129.95 L774,1130.2 L774.25,1130.42 L774.5,1130.62 L774.75,1130.78 L775,1130.92 L775.25,1131.02 L775.5,1131.1 L775.75,1131.15 L776,1131.2 L776.5,1131.24 L781.5,1131.18 L782,1131.13 L782.25,1131.09 L782.5,1131.05 L782.75,1130.99 L783,1130.94 L783.25,1130.87 L783.5,1130.81 L783.75,1130.73 L784,1130.66 L784.25,1130.59 L784.5,1130.52 L784.75,1130.45 L785,1130.39 L785.25,1130.34 L785.75,1130.28 L787,1130.33 L787.5,1130.4 L788,1130.44 L788.5,1130.43 L788.75,1130.39 L789,1130.31 L789.25,1130.21 L789.5,1130.07 L789.75,1129.87 L790,1129.4 L790.25,1128.1 L790.5,1125.05 L790.75,1119.75 L791,1112.7 L791.25,1104.86 L791.5,1096.8 L791.75,1088.72 L792,1080.71 L792.25,1072.95 L792.5,1066.1 L792.75,1061.53 L793,1060.66 L793.25,1063.67 L793.5,1069.29 L793.75,1076.01 L794,1083.03 L794.25,1090.11 L794.5,1097.2 L794.75,1104.25 L795,1111.16 L795.25,1117.52 L795.5,1122.6 L795.75,1125.84 L796,1127.37 L796.25,1127.88 L796.5,1128.02 L796.75,1128.07 L797,1128.13 L797.25,1128.22 L797.5,1128.32 L797.75,1128.44 L798,1128.56 L798.25,1128.68 L798.5,1128.78 L798.75,1128.88 L799,1128.96 L799.25,1129.04 L799.5,1129.11 L799.75,1129.18 L800,1129.23 L800.25,1129.29 L800.5,1129.33 L800.75,1129.38 L801.25,1129.45 L801.75,1129.51 L802.25,1129.55 L803,1129.61 L803.75,1129.65 L804.5,1129.7 L805,1129.75 L805.5,1129.81 L806,1129.88 L806.25,1129.92 L806.5,1129.97 L806.75,1130.02 L807,1130.07 L807.25,1130.12 L807.5,1130.18 L807.75,1130.24 L808,1130.3 L808.25,1130.37 L808.5,1130.43 L808.75,1130.49 L809,1130.55 L809.25,1130.61 L809.5,1130.67 L809.75,1130.73 L810,1130.78 L810.25,1130.83 L810.5,1130.88 L810.75,1130.92 L811.25,1131 L811.75,1131.06 L812.25,1131.11 L813,1131.16 L814,1131.2 L817.25,1131.15 L817.5,1131.12 L817.75,1131.07 L818,1131.01 L818.25,1130.93 L818.5,1130.83 L818.75,1130.71 L819,1130.57 L819.25,1130.41 L819.5,1130.24 L819.75,1130.06 L820,1129.88 L820.25,1129.71 L820.5,1129.55 L820.75,1129.43 L821,1129.34 L821.25,1129.29 L821.5,1129.28 L821.75,1129.32 L822,1129.4 L822.25,1129.52 L822.5,1129.67 L822.75,1129.84 L823,1130.02 L823.25,1130.2 L823.5,1130.37 L823.75,1130.53 L824,1130.67 L824.25,1130.8 L824.5,1130.9 L824.75,1130.99 L825,1131.05 L825.25,1131.1 L825.75,1131.17 L826.5,1131.21 L844.25,1131.15 L844.5,1131.11 L844.75,1131.05 L845,1130.97 L845.25,1130.84 L845.5,1130.65 L845.75,1130.4 L846,1130.05 L846.25,1129.61 L846.5,1129.06 L846.75,1128.39 L847,1127.6 L847.25,1126.72 L847.5,1125.76 L847.75,1124.77 L848,1123.79 L848.25,1122.88 L848.5,1122.09 L848.75,1121.47 L849,1121.05 L849.25,1120.83 L849.5,1120.79 L849.75,1120.88 L850,1121.08 L850.25,1121.37 L850.5,1121.74 L850.75,1122.16 L851,1122.62 L851.25,1123.11 L851.5,1123.6 L851.75,1124.08 L852,1124.54 L852.25,1124.96 L852.5,1125.35 L852.75,1125.7 L853,1126.01 L853.25,1126.28 L853.5,1126.52 L853.75,1126.73 L854,1126.91 L854.25,1127.08 L854.5,1127.24 L854.75,1127.4 L855,1127.55 L855.25,1127.71 L855.5,1127.88 L855.75,1128.05 L856,1128.23 L856.25,1128.42 L856.5,1128.61 L856.75,1128.8 L857,1128.98 L857.25,1129.16 L857.5,1129.33 L857.75,1129.47 L858,1129.6 L858.25,1129.69 L858.5,1129.74 L858.75,1129.75 L859,1129.71 L859.25,1129.6 L859.5,1129.42 L859.75,1129.15 L860,1128.79 L860.25,1128.31 L860.5,1127.7 L860.75,1126.96 L861,1126.03 L861.25,1124.73 L861.5,1122.46 L861.75,1117.93 L862,1109.81 L862.25,1097.93 L862.5,1083.47 L862.75,1067.85 L863,1051.82 L863.25,1035.63 L863.5,1019.37 L863.75,1003.07 L864,986.79 L864.25,970.57 L864.5,954.47 L864.75,938.56 L865,922.87 L865.25,907.5 L865.5,892.72 L865.75,879.45 L866,869.94 L866.25,867.09 L866.5,871.94 L866.75,882.53 L867,895.94 L867.25,910.47 L867.5,925.56 L867.75,941.09 L868,957.02 L868.25,973.29 L868.5,989.76 L868.75,1005.95 L869,1020.77 L869.25,1032.79 L869.5,1041.46 L869.75,1047.72 L870,1052.91 L870.25,1057.82 L870.5,1062.65 L870.75,1067.42 L871,1072.1 L871.25,1076.66 L871.5,1081.07 L871.75,1085.31 L872,1089.37 L872.25,1093.22 L872.5,1096.85 L872.75,1100.27 L873,1103.46 L873.25,1106.42 L873.5,1109.15 L873.75,1111.66 L874,1113.96 L874.25,1116.05 L874.5,1117.93 L874.75,1119.63 L875,1121.16 L875.25,1122.51 L875.5,1123.72 L875.75,1124.78 L876,1125.71 L876.25,1126.53 L876.5,1127.24 L876.75,1127.86 L877,1128.39 L877.25,1128.84 L877.5,1129.23 L877.75,1129.56 L878,1129.84 L878.25,1130.08 L878.5,1130.28 L878.75,1130.44 L879,1130.58 L879.25,1130.69 L879.5,1130.79 L879.75,1130.86 L880,1130.92 L880.25,1130.98 L880.5,1131.02 L881,1131.08 L881.75,1131.13 L884,1131.17 L908,1131.15" fill="none" stroke-width="3" stroke-linejoin="round" stroke-linecap="round"/>
<text x="48.5" y="1183.7" font-size="29.6" style="stroke:#000;stroke-width:0.5px;stroke-linejoin:round" textLength="16.5" lengthAdjust="spacingAndGlyphs">0</text>
<text x="161.5" y="1183.7" font-size="29.6" style="stroke:#000;stroke-width:0.5px;stroke-linejoin:round" textLength="14.4" lengthAdjust="spacingAndGlyphs">5</text>
<text x="264.7" y="1183.7" font-size="29.6" style="stroke:#000;stroke-width:0.5px;stroke-linejoin:round" textLength="31.4" lengthAdjust="spacingAndGlyphs">10</text>
<text x="377.3" y="1183.7" font-size="29.6" style="stroke:#000;stroke-width:0.5px;stroke-linejoin:round" textLength="30.0" lengthAdjust="spacingAndGlyphs">15</text>
<text x="489" y="1183.7" font-size="29.6" style="stroke:#000;stroke-width:0.5px;stroke-linejoin:round" textLength="31.7" lengthAdjust="spacingAndGlyphs">20</text>
<text x="601.5" y="1183.7" font-size="29.6" style="stroke:#000;stroke-width:0.5px;stroke-linejoin:round" textLength="30.3" lengthAdjust="spacingAndGlyphs">25</text>
<text x="713.4" y="1183.7" font-size="29.6" style="stroke:#000;stroke-width:0.5px;stroke-linejoin:round" textLength="31.2" lengthAdjust="spacingAndGlyphs">30</text>
<text x="825.9" y="1183.7" font-size="29.6" style="stroke:#000;stroke-width:0.5px;stroke-linejoin:round" textLength="29.8" lengthAdjust="spacingAndGlyphs">35</text>
<text x="937.2" y="1183.7" font-size="29.6" style="stroke:#000;stroke-width:0.5px;stroke-linejoin:round" textLength="32.0" lengthAdjust="spacingAndGlyphs">40</text>
<g transform="translate(31.8 1138.3) rotate(-90)">
<text y="0" font-size="35.2" style="stroke:#000;stroke-width:0.5px;stroke-linejoin:round"><tspan x="-0.5" textLength="190.6" lengthAdjust="spacingAndGlyphs">Absorbance</tspan> <tspan x="199.6" textLength="31.2" lengthAdjust="spacingAndGlyphs">at</tspan> <tspan x="248.7" textLength="59.3" lengthAdjust="spacingAndGlyphs">440</tspan> <tspan x="316.6" textLength="51.7" lengthAdjust="spacingAndGlyphs">nm</tspan> <tspan x="378.2" textLength="82.8" lengthAdjust="spacingAndGlyphs">(a.u.)</tspan></text>
</g>
<text y="1230.8" font-size="35.2" style="stroke:#000;stroke-width:0.5px;stroke-linejoin:round"><tspan x="293.7" textLength="157.1" lengthAdjust="spacingAndGlyphs">Retention</tspan> <tspan x="459.9" textLength="73.3" lengthAdjust="spacingAndGlyphs">time</tspan> <tspan x="543" textLength="84.0" lengthAdjust="spacingAndGlyphs">(min)</tspan></text>
<text x="97.2" y="771" font-size="52.7" style="stroke:#000;stroke-width:1.4px;stroke-linejoin:round" textLength="29.9" lengthAdjust="spacingAndGlyphs">b</text>
<text x="156.4" y="768.6" font-size="41.8" style="stroke:#000;stroke-width:0.6px;stroke-linejoin:round" font-weight="400" textLength="182.6" lengthAdjust="spacingAndGlyphs">HCIR111A</text>
<text x="164.8" y="1110.2" font-size="29.6" style="stroke:#000;stroke-width:0.5px;stroke-linejoin:round" textLength="14.5" lengthAdjust="spacingAndGlyphs">1</text>
<text x="590.4" y="1116.8" font-size="29.6" style="stroke:#000;stroke-width:0.5px;stroke-linejoin:round" textLength="15.3" lengthAdjust="spacingAndGlyphs">2</text>
<text x="646.4" y="734.3" font-size="29.6" style="stroke:#000;stroke-width:0.5px;stroke-linejoin:round" textLength="14.9" lengthAdjust="spacingAndGlyphs">3</text>
<text x="785" y="1048.2" font-size="29.6" style="stroke:#000;stroke-width:0.5px;stroke-linejoin:round" textLength="15.7" lengthAdjust="spacingAndGlyphs">6</text>
<text x="836.5" y="1115.4" font-size="29.6" style="stroke:#000;stroke-width:0.5px;stroke-linejoin:round" textLength="15.7" lengthAdjust="spacingAndGlyphs">7</text>
<text x="857.6" y="854.7" font-size="29.6" style="stroke:#000;stroke-width:0.5px;stroke-linejoin:round" textLength="15.2" lengthAdjust="spacingAndGlyphs">8</text>
<text x="86.8" y="1110.2" font-size="28.6" style="stroke:#000;stroke-width:0.5px;stroke-linejoin:round" textLength="21.4" lengthAdjust="spacingAndGlyphs">a'</text>
<text x="192.8" y="1110.2" font-size="28.6" style="stroke:#000;stroke-width:0.5px;stroke-linejoin:round" textLength="24.4" lengthAdjust="spacingAndGlyphs">b’</text>
<text x="553.9" y="1110.4" font-size="28.6" style="stroke:#000;stroke-width:0.5px;stroke-linejoin:round" textLength="20.8" lengthAdjust="spacingAndGlyphs">c’</text>
<text x="576.3" y="1074.8" font-size="28.6" style="stroke:#000;stroke-width:0.5px;stroke-linejoin:round" textLength="24.7" lengthAdjust="spacingAndGlyphs">d’</text>
<text x="750.5" y="685.6" font-size="28.6" style="stroke:#000;stroke-width:0.5px;stroke-linejoin:round" textLength="23.7" lengthAdjust="spacingAndGlyphs">e’</text>
<text x="676.2" y="1105.6" font-size="29.6" style="stroke:#000;stroke-width:0.5px;stroke-linejoin:round" textLength="30.6" lengthAdjust="spacingAndGlyphs">45</text>
<line x1="581.4" y1="1080.7" x2="577.1" y2="1126.7" stroke-width="1.9"/>
<line x1="700.2" y1="1110.2" x2="694" y2="1125.9" stroke-width="1.9"/>
<!-- panel c -->
<path d="M1053.9,171.3 V546.6 M1052.8,537.7 H1487.4 M1101.9,537.7 V546.6 M1150,537.7 V546.6 M1198,537.7 V546.6 M1246.1,537.7 V546.6 M1294.1,537.7 V546.6 M1342.1,537.7 V546.6 M1390.2,537.7 V546.6 M1438.2,537.7 V546.6 M1486.3,537.7 V546.6" fill="none" stroke-width="2.2"/>
<path d="M1053.9,468.6 C1054.8,469.2 1057.3,471.3 1059.3,472.5 C1061.3,473.7 1063.4,474.1 1065.8,475.7 C1068.2,477.3 1070.8,480.3 1073.8,482.2 C1076.8,484.1 1080.8,484.6 1083.5,487 C1086.2,489.4 1088.2,494.3 1089.9,496.7 C1091.6,499.1 1092.5,500.3 1093.8,501.6 C1095.1,502.9 1096.8,504.2 1098,504.6 C1099.2,505 1100.1,504.4 1101.2,504 C1102.3,503.6 1102.8,503.6 1104.4,502.1 C1106,500.6 1108.8,499.1 1110.9,495 C1113.1,490.9 1115.4,484.3 1117.3,477.3 C1119.2,470.3 1120.6,461.5 1122.2,453.2 C1123.8,444.9 1125.4,434.4 1127,427.4 C1128.6,420.4 1130.2,415.9 1131.8,411.3 C1133.4,406.7 1135,405.4 1136.6,400 C1138.2,394.6 1139.9,389.5 1141.5,379 C1143.1,368.5 1144.7,354.9 1146.3,337.2 C1147.9,319.5 1149.8,289.4 1151.1,272.8 C1152.4,256.2 1153.5,244.5 1154.4,237.3 C1155.4,230.1 1156,230.1 1156.8,229.8 C1157.6,229.5 1158.3,229.6 1159.2,235.7 C1160.1,241.8 1161.1,249.9 1162.4,266.3 C1163.8,282.7 1165.7,312 1167.3,334 C1168.9,356 1170.5,379.1 1172.1,398.4 C1173.7,417.7 1175.3,435 1176.9,450 C1178.5,465 1180.2,478.9 1181.8,488.6 C1183.4,498.3 1185,502.9 1186.6,508 C1188.2,513.1 1189.5,516.2 1191.4,519.2 C1193.3,522.2 1195.5,524.1 1197.9,525.7 C1200.3,527.3 1203.2,528.2 1205.9,528.9 C1208.6,529.6 1211,529.9 1214,529.8 C1217,529.7 1220.4,528.9 1223.6,528.2 C1226.8,527.5 1230.1,526.4 1233.3,525.7 C1236.5,525 1238.7,524.5 1243,524 C1247.3,523.5 1254.5,522.9 1259,522.4 C1263.5,521.9 1266.9,521.5 1269.7,521 C1272.5,520.5 1273.7,520.4 1276.1,519.2 C1278.5,518 1281.8,515.1 1284.2,513.9 C1286.6,512.7 1288.4,511.7 1290.6,511.8 C1292.8,511.9 1294.7,513.4 1297.1,514.4 C1299.5,515.4 1302.7,516.9 1305.1,517.5 C1307.5,518.1 1309.7,518.3 1311.6,518 C1313.5,517.7 1314.8,517.4 1316.4,515.5 C1318,513.6 1319.7,511.1 1321.3,506.7 C1322.9,502.3 1324.5,496.5 1326.1,489 C1327.7,481.5 1329.6,469 1330.9,461.5 C1332.2,454 1333.1,447.9 1334.1,443.8 C1335,439.7 1335.9,438.2 1336.6,436.8 C1337.3,435.4 1337.5,435.3 1338.2,435.6 C1338.9,435.9 1339.8,435.9 1340.6,438.4 C1341.4,440.8 1342.2,445.4 1343,450.3 C1343.8,455.2 1344.7,463.2 1345.4,468 C1346.1,472.8 1346.3,475.8 1347,479.3 C1347.7,482.8 1348.7,485.2 1349.5,489 C1350.3,492.8 1351,497.2 1351.9,501.8 C1352.8,506.4 1354,512.4 1355.1,516.4 C1356.2,520.4 1357.2,523.5 1358.3,526 C1359.4,528.5 1360.2,530.1 1361.5,531.7 C1362.8,533.3 1364,534.8 1366.4,535.7 C1368.8,536.6 1370.4,536.9 1376,537.3 C1381.6,537.7 1392.5,537.8 1400,538 C1407.5,538.2 1415,538.2 1421.2,538.4 C1427.4,538.6 1430.8,539.2 1437.3,539.3 C1443.8,539.4 1451.9,539 1460,538.9 C1468.1,538.8 1481.4,538.5 1485.7,538.4" fill="none" stroke-width="3.2" stroke-linejoin="round" stroke-linecap="round"/>
<text x="1030.6" y="589.4" font-size="29.6" style="stroke:#000;stroke-width:0.5px;stroke-linejoin:round" textLength="47.1" lengthAdjust="spacingAndGlyphs">350</text>
<text x="1126.4" y="589.4" font-size="29.6" style="stroke:#000;stroke-width:0.5px;stroke-linejoin:round" textLength="47.9" lengthAdjust="spacingAndGlyphs">450</text>
<text x="1222.4" y="589.4" font-size="29.6" style="stroke:#000;stroke-width:0.5px;stroke-linejoin:round" textLength="47.6" lengthAdjust="spacingAndGlyphs">550</text>
<text x="1318.4" y="589.4" font-size="29.6" style="stroke:#000;stroke-width:0.5px;stroke-linejoin:round" textLength="47.7" lengthAdjust="spacingAndGlyphs">650</text>
<text x="1414.4" y="589.4" font-size="29.6" style="stroke:#000;stroke-width:0.5px;stroke-linejoin:round" textLength="47.6" lengthAdjust="spacingAndGlyphs">750</text>
<g transform="translate(1028.3 501.6) rotate(-90)">
<text y="0" font-size="35.2" style="stroke:#000;stroke-width:0.5px;stroke-linejoin:round"><tspan x="-0.5" textLength="190.6" lengthAdjust="spacingAndGlyphs">Absorbance</tspan> <tspan x="199.9" textLength="82.8" lengthAdjust="spacingAndGlyphs">(a.u.)</tspan></text>
</g>
<text x="1093" y="131.4" font-size="52.7" style="stroke:#000;stroke-width:1.4px;stroke-linejoin:round" textLength="23.9" lengthAdjust="spacingAndGlyphs">c</text>
<text y="125" font-size="41.8" style="stroke:#000;stroke-width:0.6px;stroke-linejoin:round" font-weight="400"><tspan x="1176.1" textLength="85.8" lengthAdjust="spacingAndGlyphs">Peak</tspan> <tspan x="1273.3" textLength="22.1" lengthAdjust="spacingAndGlyphs">e</tspan> <tspan x="1307" textLength="69.7" lengthAdjust="spacingAndGlyphs">(Chl</tspan> <tspan x="1389.4" font-style="italic" textLength="21.3" lengthAdjust="spacingAndGlyphs">b</tspan> <tspan x="1413.6" textLength="9.4" lengthAdjust="spacingAndGlyphs">)</tspan></text>
<text x="1134.9" y="202.1" font-size="29.8" style="stroke:#000;stroke-width:0.3px;stroke-linejoin:round" font-weight="400" textLength="47.9" lengthAdjust="spacingAndGlyphs">457</text>
<text x="1317.5" y="422.7" font-size="29.8" style="stroke:#000;stroke-width:0.3px;stroke-linejoin:round" font-weight="400" textLength="47.5" lengthAdjust="spacingAndGlyphs">646</text>
<!-- panel d -->
<path d="M1060.5,809 V1141 M1059.4,1132 H1495.1 M1108.7,1132 V1141 M1156.8,1132 V1141 M1205,1132 V1141 M1253.1,1132 V1141 M1301.3,1132 V1141 M1349.5,1132 V1141 M1397.6,1132 V1141 M1445.8,1132 V1141 M1493.9,1132 V1141" fill="none" stroke-width="2.2"/>
<path d="M1060.9,1025.5 C1062,1024.6 1065.5,1022.1 1067.4,1020 C1069.3,1017.9 1070.1,1017.2 1072.2,1012.6 C1074.3,1008 1077.3,999.2 1080.3,992.6 C1083.2,986 1087.2,979.5 1089.9,973.3 C1092.6,967.1 1094.2,961.1 1096.4,955.6 C1098.6,950.1 1101.2,943.5 1102.8,940.5 C1104.4,937.5 1104.8,937.5 1106,937.8 C1107.2,938.1 1108.6,938.3 1110.2,942.1 C1111.8,945.9 1114,955.2 1115.7,960.4 C1117.4,965.6 1119.2,970.5 1120.5,973.3 C1121.8,976.1 1122.5,977.2 1123.8,977.2 C1125.1,977.2 1126.7,976.9 1128.6,973.3 C1130.5,969.7 1132.6,962.9 1135,955.6 C1137.4,948.4 1140.7,938.4 1143.1,929.8 C1145.5,921.2 1147.6,911.2 1149.5,904 C1151.4,896.8 1152.9,890.4 1154.4,886.7 C1155.9,883 1157.3,881.9 1158.6,882 C1159.9,882.1 1161,881.8 1162.4,887.3 C1163.9,892.8 1165.7,902.6 1167.3,915.3 C1168.9,928 1170.5,947.5 1172.1,963.6 C1173.7,979.7 1175.3,997 1176.9,1012 C1178.5,1027 1180.2,1041.5 1181.8,1053.8 C1183.4,1066.1 1185,1077.4 1186.6,1086 C1188.2,1094.6 1189.5,1100.3 1191.4,1105.4 C1193.3,1110.5 1195.5,1114 1197.9,1116.7 C1200.3,1119.4 1202.7,1120.4 1205.9,1121.5 C1209.1,1122.6 1212.6,1122.8 1217.2,1123.1 C1221.8,1123.4 1229,1123.4 1233.3,1123.1 C1237.6,1122.8 1239.8,1122.1 1243,1121.5 C1246.2,1120.9 1249.4,1119.9 1252.6,1119.6 C1255.8,1119.2 1258.6,1119.6 1262,1119.4 C1265.4,1119.2 1269.5,1119.3 1272.9,1118.3 C1276.3,1117.3 1279.4,1115.5 1282.6,1113.4 C1285.8,1111.4 1289.2,1107.9 1292.2,1106 C1295.2,1104.1 1297.6,1103 1300.3,1102.2 C1303,1101.4 1305.3,1102 1308.3,1101.2 C1311.2,1100.4 1315,1099.2 1318,1097.3 C1321,1095.4 1323,1092.9 1326,1089.9 C1329,1087 1332.7,1082.4 1335.7,1079.6 C1338.7,1076.8 1341.4,1074.5 1343.8,1073.2 C1346.2,1071.9 1348.1,1071.7 1350.2,1071.6 C1352.3,1071.5 1354.7,1072.1 1356.6,1072.5 C1358.5,1072.9 1359.9,1074.8 1361.5,1073.8 C1363.1,1072.8 1364.7,1071.6 1366.3,1066.7 C1367.9,1061.8 1369.5,1055.5 1371.1,1044.2 C1372.7,1032.9 1374.4,1017.3 1376,999 C1377.6,980.7 1379.2,955.5 1380.8,934.6 C1382.4,913.7 1384.2,888.1 1385.6,873.4 C1386.9,858.7 1388.1,851.6 1388.9,846.4 C1389.7,841.2 1390,842.1 1390.6,842.1 C1391.2,842.1 1391.7,839.6 1392.7,846.4 C1393.8,853.2 1395.4,865.2 1396.9,883.1 C1398.4,901 1400.2,931.5 1401.8,954 C1403.4,976.5 1405,999.6 1406.6,1018.4 C1408.2,1037.2 1409.8,1053.3 1411.4,1066.7 C1413,1080.1 1414.7,1090.6 1416.3,1098.9 C1417.9,1107.2 1419.2,1112.1 1421.1,1116.7 C1423,1121.3 1425.1,1124 1427.5,1126.3 C1429.9,1128.5 1431.3,1129.3 1435.6,1130.2 C1439.9,1131.1 1446.7,1131.3 1453.3,1131.6 C1459.9,1131.9 1468.2,1131.8 1475,1131.9 C1481.8,1132 1491,1132 1494.2,1132" fill="none" stroke-width="3.2" stroke-linejoin="round" stroke-linecap="round"/>
<text x="1037.2" y="1183" font-size="29.6" style="stroke:#000;stroke-width:0.5px;stroke-linejoin:round" textLength="47.1" lengthAdjust="spacingAndGlyphs">350</text>
<text x="1133.3" y="1183" font-size="29.6" style="stroke:#000;stroke-width:0.5px;stroke-linejoin:round" textLength="47.9" lengthAdjust="spacingAndGlyphs">450</text>
<text x="1229.5" y="1183" font-size="29.6" style="stroke:#000;stroke-width:0.5px;stroke-linejoin:round" textLength="47.6" lengthAdjust="spacingAndGlyphs">550</text>
<text x="1325.7" y="1183" font-size="29.6" style="stroke:#000;stroke-width:0.5px;stroke-linejoin:round" textLength="47.7" lengthAdjust="spacingAndGlyphs">650</text>
<text x="1422" y="1183" font-size="29.6" style="stroke:#000;stroke-width:0.5px;stroke-linejoin:round" textLength="47.6" lengthAdjust="spacingAndGlyphs">750</text>
<g transform="translate(1034.7 1112.7) rotate(-90)">
<text y="0" font-size="35.2" style="stroke:#000;stroke-width:0.5px;stroke-linejoin:round"><tspan x="-0.5" textLength="190.6" lengthAdjust="spacingAndGlyphs">Absorbance</tspan> <tspan x="199.9" textLength="82.8" lengthAdjust="spacingAndGlyphs">(a.u.)</tspan></text>
</g>
<text y="1227.9" font-size="35.2" style="stroke:#000;stroke-width:0.5px;stroke-linejoin:round"><tspan x="1130.3" textLength="191.2" lengthAdjust="spacingAndGlyphs">Wavelength</tspan> <tspan x="1331.3" textLength="74.5" lengthAdjust="spacingAndGlyphs">(nm)</tspan></text>
<text x="1087.8" y="769.7" font-size="52.7" style="stroke:#000;stroke-width:1.4px;stroke-linejoin:round" textLength="30.0" lengthAdjust="spacingAndGlyphs">d</text>
<text y="768.4" font-size="41.8" style="stroke:#000;stroke-width:0.6px;stroke-linejoin:round" font-weight="400"><tspan x="1163.6" textLength="85.8" lengthAdjust="spacingAndGlyphs">Peak</tspan> <tspan x="1260.7" textLength="32.8" lengthAdjust="spacingAndGlyphs">e’</tspan> <tspan x="1305.8" textLength="69.7" lengthAdjust="spacingAndGlyphs">(Chl</tspan> <tspan x="1386.9" font-style="italic" textLength="21.1" lengthAdjust="spacingAndGlyphs">d</tspan> <tspan x="1412.3" textLength="9.4" lengthAdjust="spacingAndGlyphs">)</tspan></text>
<text x="1077.3" y="912.2" font-size="29.8" style="stroke:#000;stroke-width:0.3px;stroke-linejoin:round" font-weight="400" textLength="46.9" lengthAdjust="spacingAndGlyphs">398</text>
<text x="1135" y="866.5" font-size="29.8" style="stroke:#000;stroke-width:0.3px;stroke-linejoin:round" font-weight="400" textLength="47.5" lengthAdjust="spacingAndGlyphs">452</text>
<text x="1369.3" y="830.2" font-size="29.8" style="stroke:#000;stroke-width:0.3px;stroke-linejoin:round" font-weight="400" textLength="47.5" lengthAdjust="spacingAndGlyphs">692</text>
</svg>
</body>
</html>
